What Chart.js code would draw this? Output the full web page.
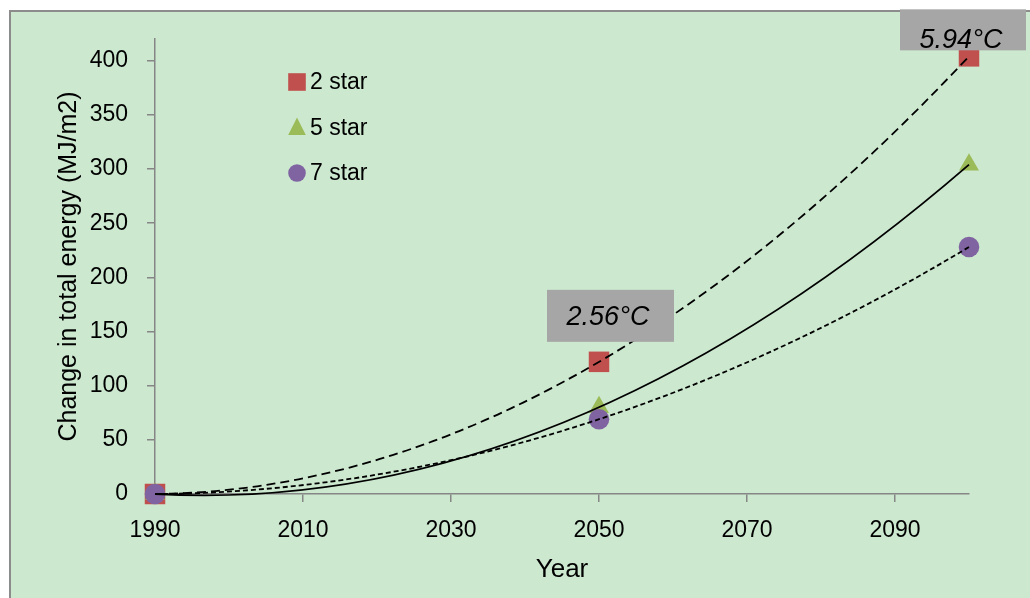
<!DOCTYPE html>
<html>
<head>
<meta charset="utf-8">
<script src="https://cdn.jsdelivr.net/npm/chart.js@4.4.1/dist/chart.umd.min.js"></script>
<style>
    html, body { margin: 0; padding: 0; background: #fff; }
    #wrap { width: 1030px; height: 598px; }
</style>
</head>
<body>
<div id="wrap"><canvas id="energyChart" width="1030" height="598"></canvas></div>
<script>
// values
const YEARS = [1990, 2050, 2100];
const STAR2 = [0, 122, 404];
const STAR5 = [0, 80, 304];
const STAR7 = [0, 69, 228];
const SERIES_LABELS = ["2 star", "5 star", "7 star"];
const X_TICKS = [1990, 2010, 2030, 2050, 2070, 2090];
const Y_TICKS = [0, 50, 100, 150, 200, 250, 300, 350, 400];
// temperature call-outs sitting over the 2 star points (2050, 2100)
const TEMP_LABELS = ["2.56°C", "5.94°C"];

const FONT = "'Liberation Sans', Arial, sans-serif";
const COLORS = ["#c0504d", "#9bbb59", "#8064a2"];
const STYLES = ["rect", "triangle", "circle"];
const RADII = [14.5, 11.5, 10.3];
const TREND_DASH = [[9, 5], [], [5, 3]];

// order-2 polynomial trendline (least squares, like the spreadsheet one)
function polyFit2(xs, ys) {
    const x0 = xs[0];
    let s = [0, 0, 0, 0, 0], t = [0, 0, 0];
    xs.forEach((x, i) => {
        const u = x - x0;
        for (let k = 0; k < 5; k++) s[k] += Math.pow(u, k);
        for (let k = 0; k < 3; k++) t[k] += Math.pow(u, k) * ys[i];
    });
    const m = [
        [s[0], s[1], s[2], t[0]],
        [s[1], s[2], s[3], t[1]],
        [s[2], s[3], s[4], t[2]]
    ];
    for (let c = 0; c < 3; c++) {
        for (let r = c + 1; r < 3; r++) {
            const f = m[r][c] / m[c][c];
            for (let k = c; k < 4; k++) m[r][k] -= f * m[c][k];
        }
    }
    const coef = [0, 0, 0];
    for (let r = 2; r >= 0; r--) {
        let v = m[r][3];
        for (let k = r + 1; k < 3; k++) v -= m[r][k] * coef[k];
        coef[r] = v / m[r][r];
    }
    return { x0, c: coef[0], b: coef[1], a: coef[2] };
}

function makeDataset(label, values, i) {
    return {
        label: label,
        data: YEARS.map((year, j) => ({ x: year, y: values[j] })),
        pointStyle: STYLES[i],
        pointRadius: RADII[i],
        pointHoverRadius: RADII[i],
        backgroundColor: COLORS[i],
        borderColor: COLORS[i],
        borderWidth: 0,
        showLine: false,
        clip: false,
        order: 3 - i
    };
}

const seriesValues = [STAR2, STAR5, STAR7];

const backgroundPlugin = {
    id: "background",
    beforeDraw(chart) {
        const { ctx, width, height } = chart;
        ctx.save();
        ctx.fillStyle = "#ffffff";
        ctx.fillRect(0, 0, width, height);
        ctx.fillStyle = "#cce8cf";
        ctx.fillRect(11, 12, width, height);
        ctx.fillStyle = "#8c8c8c";
        ctx.fillRect(9, 10, 2, height);
        ctx.fillRect(9, 10, width, 2);
        ctx.restore();
    }
};

function drawMarker(ctx, style, x, y, r, color) {
    ctx.fillStyle = color;
    ctx.beginPath();
    if (style === "rect") {
        ctx.rect(x - r, y - r, 2 * r, 2 * r);
    } else if (style === "triangle") {
        ctx.moveTo(x, y - r * 1.15);
        ctx.lineTo(x + r, y + r * 0.85);
        ctx.lineTo(x - r, y + r * 0.85);
        ctx.closePath();
    } else {
        ctx.arc(x, y, r, 0, Math.PI * 2);
    }
    ctx.fill();
}

const overlayPlugin = {
    id: "overlay",
    afterDatasetsDraw(chart) {
        const { ctx } = chart;
        const xs = chart.scales.x, ys = chart.scales.y;

        // trendlines, drawn as exact quadratic curves in pixel space
        ctx.save();
        ctx.strokeStyle = "#000";
        ctx.lineWidth = 1.8;
        seriesValues.forEach((values, i) => {
            const f = polyFit2(YEARS, values);
            const xa = YEARS[0], xb = YEARS[YEARS.length - 1];
            const yAt = x => { const u = x - f.x0; return f.c + f.b * u + f.a * u * u; };
            const slopeA = f.b + 2 * f.a * (xa - f.x0);
            const xc = (xa + xb) / 2, yc = yAt(xa) + slopeA * (xb - xa) / 2;
            ctx.setLineDash(TREND_DASH[i]);
            ctx.beginPath();
            ctx.moveTo(xs.getPixelForValue(xa), ys.getPixelForValue(yAt(xa)));
            ctx.quadraticCurveTo(xs.getPixelForValue(xc), ys.getPixelForValue(yc),
                xs.getPixelForValue(xb), ys.getPixelForValue(yAt(xb)));
            ctx.stroke();
        });
        ctx.setLineDash([]);

        // temperature call-outs
        const boxes = [
            { idx: 1, l: -52, r: 75, t: -72, b: -20, tx: 9, ty: -44 },
            { idx: 2, l: -69, r: 57, t: -47, b: -6, tx: -8, ty: -16 }
        ];
        boxes.forEach((bx, k) => {
            const px = xs.getPixelForValue(YEARS[bx.idx]);
            const py = ys.getPixelForValue(STAR2[bx.idx]);
            ctx.fillStyle = "#a6a6a6";
            ctx.fillRect(px + bx.l, py + bx.t, bx.r - bx.l, bx.b - bx.t);
            ctx.fillStyle = "#000";
            ctx.font = "italic 27px " + FONT;
            ctx.textAlign = "center";
            ctx.textBaseline = "middle";
            ctx.fillText(TEMP_LABELS[k], px + bx.tx, py + bx.ty);
        });

        // legend inside plot
        SERIES_LABELS.forEach((label, i) => {
            const ly = 82 + 45.5 * i;
            drawMarker(ctx, STYLES[i], 297, ly, 8.8, COLORS[i]);
            ctx.fillStyle = "#000";
            ctx.font = "23px " + FONT;
            ctx.textAlign = "left";
            ctx.textBaseline = "middle";
            ctx.fillText(label, 310, ly + 1);
        });
        ctx.restore();
    }
};

const axisGray = "#868686";

new Chart(document.getElementById("energyChart"), {
    type: "scatter",
    data: {
        datasets: SERIES_LABELS.map((label, i) => makeDataset(label, seriesValues[i], i))
    },
    options: {
        responsive: false,
        animation: false,
        layout: { padding: { left: 0, top: 39, right: 61, bottom: 0 } },
        plugins: {
            legend: { display: false },
            tooltip: { enabled: false }
        },
        scales: {
            x: {
                type: "linear",
                min: 1990,
                max: 2100,
                afterBuildTicks: s => { s.ticks = X_TICKS.map(v => ({ value: v })); },
                afterFit: s => { s.height = 104; },
                grid: { drawOnChartArea: false, drawTicks: true, tickLength: 8, color: axisGray, lineWidth: 1.5 },
                border: { color: axisGray, width: 1.5 },
                ticks: {
                    color: "#000",
                    font: { family: FONT, size: 23 },
                    padding: 15,
                    maxRotation: 0,
                    autoSkip: false,
                    callback: v => String(v)
                },
                title: {
                    display: true,
                    text: "Year",
                    color: "#000",
                    font: { family: FONT, size: 26 },
                    padding: { top: 0, bottom: 13 }
                }
            },
            y: {
                min: 0,
                max: 420,
                afterBuildTicks: s => { s.ticks = Y_TICKS.map(v => ({ value: v })); },
                afterFit: s => { s.width = 155; },
                grid: { drawOnChartArea: false, drawTicks: true, tickLength: 8, color: axisGray, lineWidth: 1.5 },
                border: { color: axisGray, width: 1.5 },
                ticks: {
                    color: "#000",
                    font: { family: FONT, size: 23 },
                    padding: 19
                },
                title: {
                    display: true,
                    text: "Change in total energy (MJ/m2)",
                    color: "#000",
                    font: { family: FONT, size: 25 },
                    padding: { top: 54, bottom: 0 }
                }
            }
        }
    },
    plugins: [backgroundPlugin, overlayPlugin]
});
</script>
</body>
</html>
